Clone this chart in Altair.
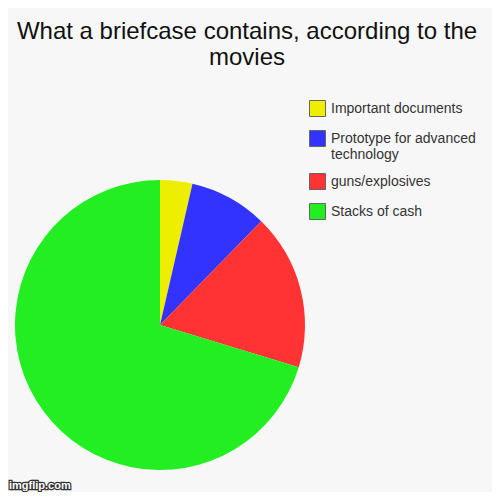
import altair as alt
import pandas as pd

categories = ["Important documents", "Prototype for advanced technology", "guns/explosives", "Stacks of cash"]
values = [3.6, 8.7, 17.4, 70.3]
colors = ["#eeee00", "#3333ff", "#ff3333", "#22ee22"]
order_idx = [0, 1, 2, 3]
watermark_text = ["imgflip.com"]

df = pd.DataFrame({"cat": categories, "value": values, "idx": order_idx})

PAD_TOP = 66
W = 484
H = 484 - PAD_TOP

pie = alt.Chart(df).mark_arc(outerRadius=145).encode(
    theta=alt.Theta("value:Q", stack=True),
    color=alt.Color(
        "cat:N",
        scale=alt.Scale(domain=categories, range=colors),
        sort=categories,
        legend=alt.Legend(
            title=None,
            orient="none",
            legendX=301,
            legendY=100 - 8 - PAD_TOP,
            symbolType="square",
            symbolSize=256,
            symbolStrokeColor="#666666",
            symbolStrokeWidth=1,
            symbolOpacity=1,
            labelFont="Liberation Sans",
            labelFontSize=14,
            labelColor="#333333",
            labelOffset=5,
            rowPadding=9,
            labelLimit=220,
            labelExpr="datum.label == 'Prototype for advanced technology' ? ['Prototype for advanced', 'technology'] : datum.label",
        ),
    ),
    order=alt.Order("idx:Q"),
    x=alt.value(160 - 8),
    y=alt.value(325 - 8 - PAD_TOP),
)

mark_df = pd.DataFrame({"t": watermark_text})
wm_stroke = alt.Chart(mark_df).mark_text(
    font="Liberation Sans", fontSize=11, fontWeight="bold", fill="#333333", stroke="#333333",
    strokeWidth=2.5, align="left", baseline="bottom"
).encode(text="t:N", x=alt.value(1), y=alt.value(H - 1))
wm_fill = alt.Chart(mark_df).mark_text(
    font="Liberation Sans", fontSize=11, fontWeight="bold", color="#ffffff", align="left", baseline="bottom"
).encode(text="t:N", x=alt.value(1), y=alt.value(H - 1))

chart = alt.layer(pie, wm_stroke, wm_fill).properties(
    width=W,
    height=H,
    background="#f7f7f7",
    padding={"left": 0, "top": PAD_TOP, "right": 0, "bottom": 0},
    autosize=alt.AutoSizeParams(type="none"),
    title=alt.TitleParams(
        ["What a briefcase contains, according to the", "movies"],
        font="Liberation Sans",
        fontSize=24,
        fontWeight="normal",
        color="#111111",
        lineHeight=26,
        anchor="middle",
        dx=-3,
        offset=4,
    ),
).configure_view(stroke=None)

chart.save("out.html", embed_options={"renderer": "svg", "actions": False})
